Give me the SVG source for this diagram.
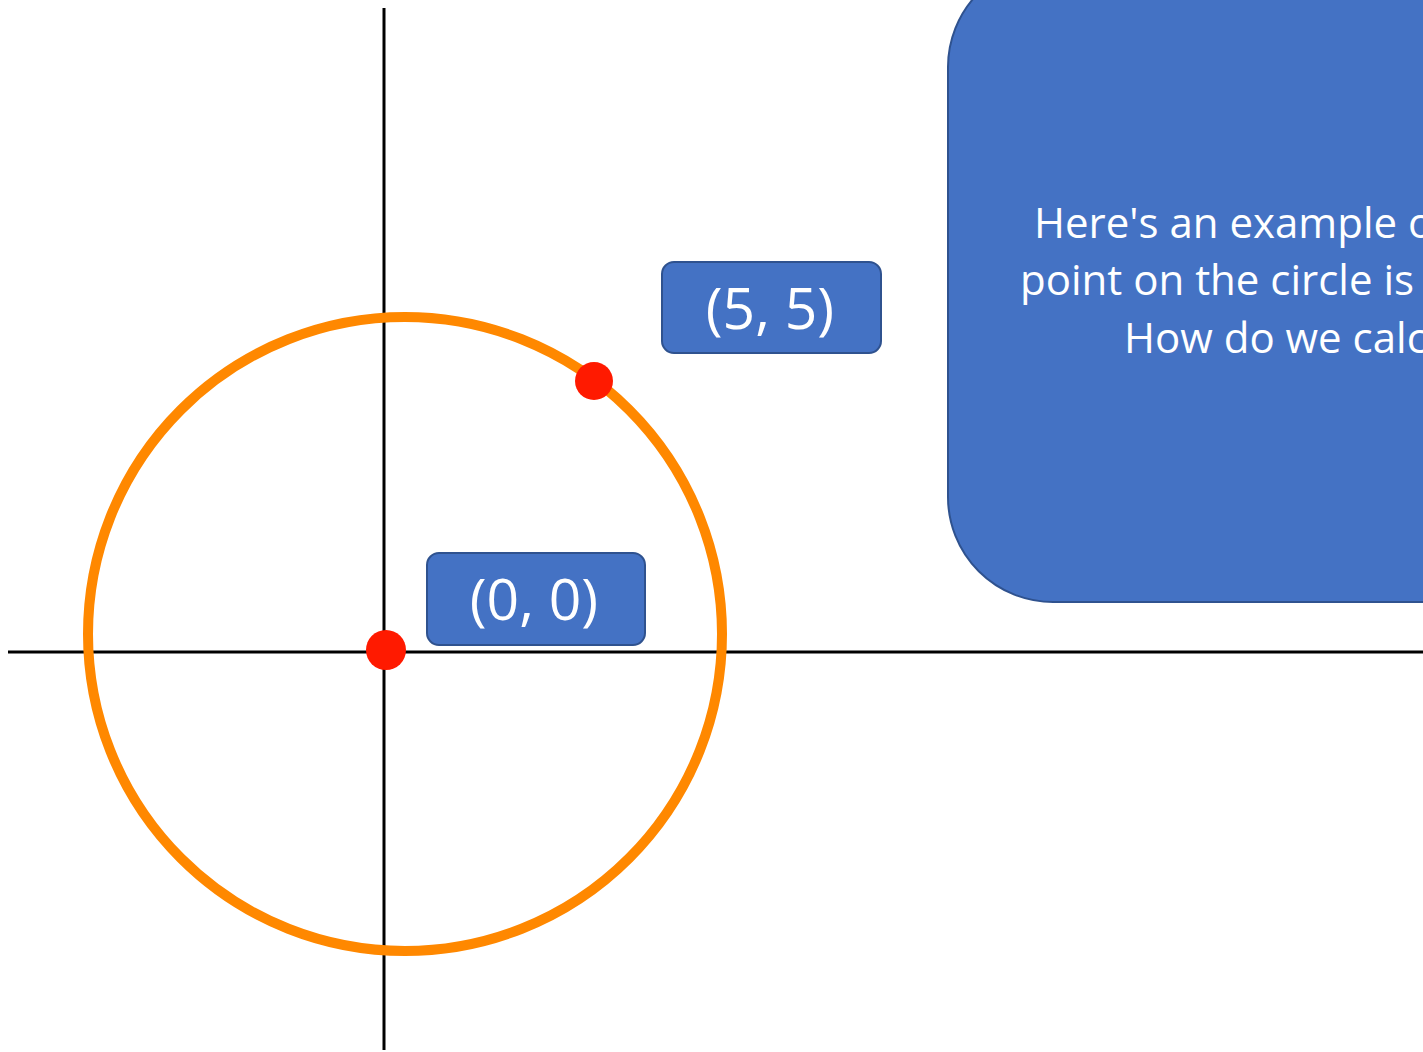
<svg xmlns="http://www.w3.org/2000/svg" width="1423" height="1052" viewBox="0 0 1423 1052">
<style>
.axis{stroke:#000;stroke-width:3;fill:none}
.box{fill:#4472C4;stroke:#2F528F;stroke-width:2}
.lbl{font-family:"Open Sans","Noto Sans",sans-serif;fill:#fff}
.dot{fill:#FF1A00}
</style>
<rect width="1423" height="1052" fill="#fff"/>
<g id="axes">
<line class="axis" x1="384" y1="8" x2="384" y2="1050"/>
<line class="axis" x1="8" y1="652" x2="1423" y2="652"/>
</g>
<g id="circle">
<circle cx="405" cy="634" r="317" fill="none" stroke="#FF8800" stroke-width="10"/>
</g>
<g id="dot-origin"><circle class="dot" cx="386" cy="650" r="20"/></g>
<g id="dot-55"><circle class="dot" cx="594" cy="381" r="19"/></g>
<g id="label-55">
<rect class="box" x="662" y="262" width="219" height="91" rx="12"/>
<text class="lbl" x="770" y="329" font-size="57" text-anchor="middle">(5, 5)</text>
</g>
<g id="label-00">
<rect class="box" x="427" y="553" width="218" height="92" rx="12"/>
<text class="lbl" x="534" y="620" font-size="57" text-anchor="middle">(0, 0)</text>
</g>
<g id="note">
<rect class="box" x="948" y="-38" width="600" height="640" rx="105"/>
<text class="lbl" font-size="42">
<tspan x="1034" y="238">Here's an example o</tspan>
<tspan x="1020" y="295">point on the circle is</tspan>
<tspan x="1124" y="353">How do we calc</tspan>
</text>
</g>
</svg>
